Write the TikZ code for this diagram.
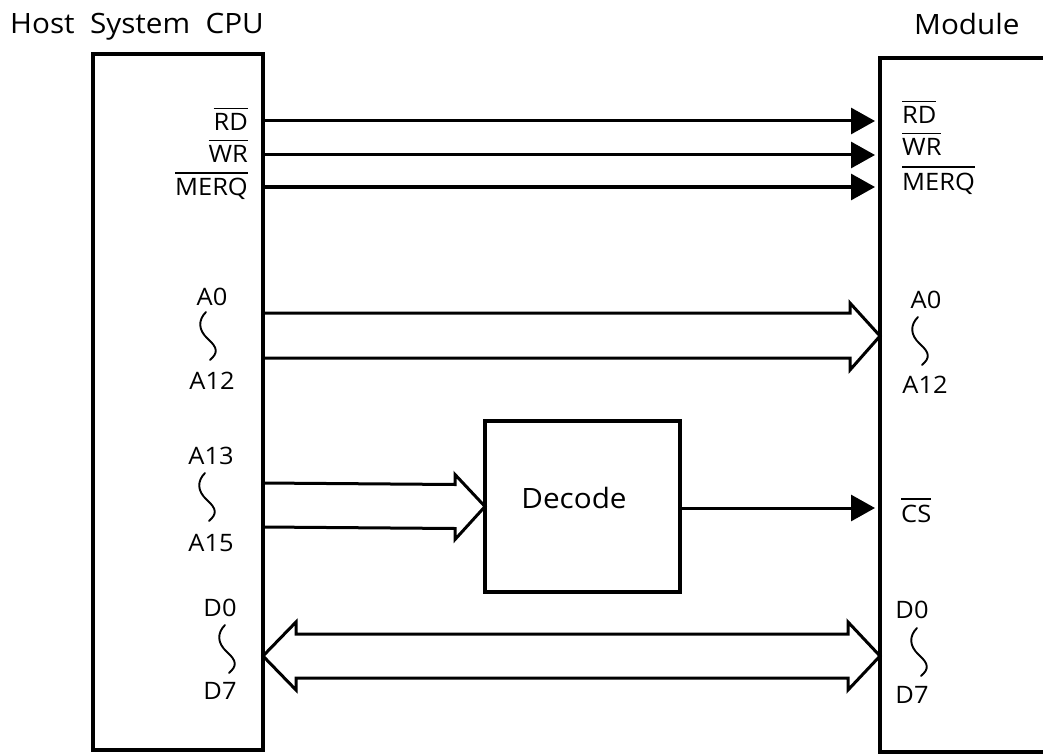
\documentclass[tikz,border=0pt]{standalone}
\usepackage{fontspec}
\setmainfont{Open Sans}[FakeStretch=1.06]
\usetikzlibrary{arrows.meta,calc}
\newcommand\ovl[1]{\vbox{\hrule height 1.3pt\kern 5pt\hbox{#1}}}
\tikzset{
  box/.style={draw, line width=3.5pt, inner sep=0pt, outer sep=0pt},
  sig/.style={line width=3pt, -{Triangle[length=24pt,width=26pt]}, shorten >=3pt},
  bus/.style={line width=3pt, line join=miter, miter limit=10},
  lbl/.style={font=\fontsize{24}{26}\selectfont, inner sep=0pt},
  ttl/.style={font=\fontsize{28}{30}\selectfont, inner sep=0pt},
  squiggle/.pic={\draw[line width=1.9pt, line cap=round] (0,0) .. controls (-8,8) and (-8,18) .. (2,27) .. controls (12,36) and (12,41) .. (4,48);}
}
\begin{document}
\begin{tikzpicture}[x=1pt,y=-1pt]
\useasboundingbox (0,0) rectangle (1043,754);
% boxes
\node[box, minimum width=170pt, minimum height=696pt, anchor=north west] (host) at (93,54) {};
\node[inner sep=0pt, outer sep=0pt, minimum width=163pt, minimum height=694pt, anchor=north west] (module) at (880,58) {};
\draw[line width=3.5pt] (module.north east) -- (module.north west) -- (module.south west) -- (module.south east);
\node[box, minimum width=195pt, minimum height=171pt, anchor=north west] (dec) at (485,421) {};
\node[ttl, anchor=base] (dectxt) at (574,508) {Decode};

% titles
\node[ttl, anchor=base west] (thost) at (10,34) {Host\ \ System\ \ CPU};
\node[ttl, anchor=base west] (tmod) at (914,35) {Module};

% control signals
\coordinate (rdL) at (263,121); \coordinate (rdR) at (878,121);
\coordinate (wrL) at (263,155); \coordinate (wrR) at (878,155);
\coordinate (mqL) at (263,187); \coordinate (mqR) at (878,187);
\draw[sig] (rdL) -- (rdR);
\draw[sig] (wrL) -- (wrR);
\draw[sig] (mqL) -- (mqR);
\node[lbl, anchor=base east] (lrd) at (248,131) {\ovl{RD}};
\node[lbl, anchor=base east] (lwr) at (248,163) {\ovl{WR}};
\node[lbl, anchor=base east] (lmq) at (248,196) {\ovl{MERQ}};
\node[lbl, anchor=base west] (mrd) at (902,124) {\ovl{RD}};
\node[lbl, anchor=base west] (mwr) at (902,156) {\ovl{WR}};
\node[lbl, anchor=base west] (mmq) at (902,190) {\ovl{MERQ}};

% address bus A0-A12
\coordinate (a0L) at (263,336); \coordinate (a0R) at (880,336);
\draw[bus] ($(a0L)+(0,-23)$) -- ($(a0R)+(-30,-23)$) -- ($(a0R)+(-30,-33)$) -- (a0R)
  -- ($(a0R)+(-30,34)$) -- ($(a0R)+(-30,22)$) -- ($(a0L)+(0,22)$);
\node[lbl, anchor=base] (la0) at (212,305) {A0};
\node[lbl, anchor=base] (la12) at (212,389) {A12};
\pic at (206,312) {squiggle};
\node[lbl, anchor=base] (ma0) at (926,308) {A0};
\node[lbl, anchor=base] (ma12) at (925,393) {A12};
\pic at (918,317) {squiggle};

% address bus A13-A15 to decode
\coordinate (a13L) at (263,505);
\draw[bus] ($(a13L)+(0,-22)$) -- ($(dec.west)+(-30,-22)$) -- ($(dec.west)+(-30,-32)$) -- (dec.west)
  -- ($(dec.west)+(-30,33)$) -- ($(dec.west)+(-30,22)$) -- ($(a13L)+(0,22)$);
\node[lbl, anchor=base] (la13) at (211,464) {A13};
\node[lbl, anchor=base] (la15) at (211,551) {A15};
\pic at (205,473) {squiggle};

% chip select
\coordinate (csR) at (878,508);
\draw[sig] (dec.east |- csR) -- (csR);
\node[lbl, anchor=base west] (mcs) at (901,522) {\ovl{CS}};

% data bus
\coordinate (dL) at (263,656); \coordinate (dR) at (880,656);
\draw[bus] ($(dL)+(33,-22)$) -- ($(dR)+(-32,-22)$) -- ($(dR)+(-32,-34)$) -- (dR)
  -- ($(dR)+(-32,34)$) -- ($(dR)+(-32,22)$) -- ($(dL)+(33,22)$) -- ($(dL)+(33,34)$)
  -- (dL) -- ($(dL)+(33,-34)$) -- cycle;
\node[lbl, anchor=base] (ld0) at (220,616) {D0};
\node[lbl, anchor=base] (ld7) at (220,699) {D7};
\pic at (225,625) {squiggle};
\node[lbl, anchor=base] (md0) at (912,618) {D0};
\node[lbl, anchor=base] (md7) at (912,703) {D7};
\pic at (917,628) {squiggle};
\end{tikzpicture}
\end{document}
